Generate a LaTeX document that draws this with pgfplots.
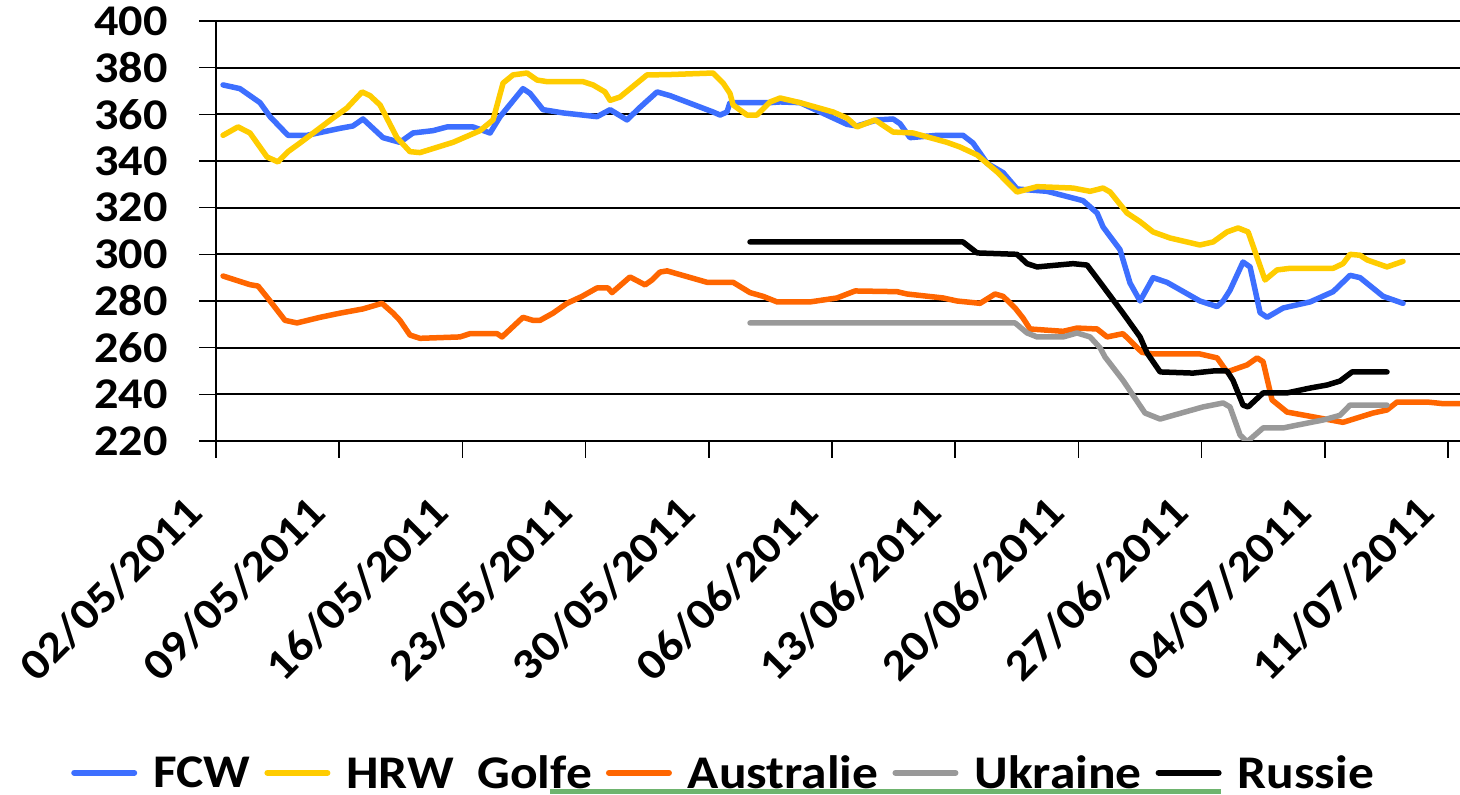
\documentclass[border=0pt]{standalone}
\usepackage{fontspec}
\setmainfont{Carlito}[FakeStretch=1.1]
\usepackage{pgfplots}
\pgfplotsset{compat=1.18}
\definecolor{cfcw}{RGB}{61,111,255}
\definecolor{chrw}{RGB}{255,204,0}
\definecolor{caus}{RGB}{255,102,0}
\definecolor{cukr}{RGB}{153,153,153}
\definecolor{cgreen}{RGB}{110,180,110}
\begin{document}
\begin{tikzpicture}[x=1bp,y=1bp]
\path[use as bounding box] (0,0) rectangle (1460,794);
\fill[cgreen] (550,0) rectangle (1221,5);
\begin{axis}[
  at={(216bp,353bp)}, anchor=south west,
  scale only axis, width=1244bp, height=420bp,
  xmin=0, xmax=70.68, ymin=220, ymax=400,
  axis x line*=bottom, axis y line*=left,
  axis line style={-, line width=2bp, black},
  tick align=outside,
  major tick length=17bp,
  tick style={line width=1.6bp, black},
  ytick={220,240,...,400},
  xtick={0,7,...,70},
  xticklabels={02/05/2011,09/05/2011,16/05/2011,23/05/2011,30/05/2011,06/06/2011,13/06/2011,20/06/2011,27/06/2011,04/07/2011,11/07/2011},
  ymajorgrids, grid style={black, line width=2bp},
  /pgf/number format/assume math mode=true,
  yticklabel style={font=\fontsize{44}{44}\selectfont\bfseries, anchor=east, xshift=-28bp},
  xticklabel style={font=\fontsize{44}{44}\selectfont\bfseries, xshift=-19bp, yshift=-45bp, rotate=45, anchor=east},
  legend columns=5,
  legend style={at={(0.408,-0.79)}, anchor=center, draw=none, fill=none,
    font=\fontsize{47}{47}\selectfont\bfseries,
    /tikz/every odd column/.append style={column sep=14bp},
    /tikz/every even column/.append style={column sep=12bp}},
  legend image code/.code={\draw[#1, line width=6bp] (0bp,0bp) -- (60bp,0bp);},
  every axis plot/.append style={line width=5.5bp, line join=round, line cap=round, mark=none},
  clip=true,
]
\addplot[cfcw] coordinates {(0.4,372.6)(1.36,371)(2.5,365)(3.07,359)(4.09,351)(5.17,351)(7.05,354)(7.78,355)(8.35,358)(9.49,350)(10.45,348)(11.19,352)(12.33,353)(13.13,354.6)(14.6,354.6)(15.57,352)(16.14,359)(17.44,371)(17.84,369)(18.58,362)(19.72,360.6)(21.65,359)(22.39,362)(23.35,357.6)(24.09,363)(25.06,369.6)(25.8,368)(28.24,361)(28.64,359.7)(29.03,361)(29.2,365)(31.48,365)(32.05,365.3)(33.18,365)(35.85,355.7)(36.42,355)(37.56,357.6)(38.47,358)(38.86,356)(39.43,350)(40.97,351)(42.44,351)(43.01,347.7)(43.81,339)(44.72,335)(45.51,328)(47.22,327)(49.26,323)(50.06,317.7)(50.4,311.7)(51.36,302)(51.93,287.7)(52.5,280)(53.24,290)(54.03,288)(55.9,280)(56.88,277.6)(57.22,280)(57.61,284.6)(58.35,296.7)(58.75,294.6)(59.32,275)(59.72,273)(60.63,277)(62.16,279.6)(63.47,284)(64.43,291)(65,290)(66.31,282)(67.44,279)};
\addlegendentry{FCW}
\addplot[chrw] coordinates {(0.4,351)(1.25,354.6)(1.93,352)(2.9,341.7)(3.52,339.6)(4.09,344)(4.77,347.7)(6.65,358.4)(7.44,362.7)(8.3,369.6)(8.75,368)(9.32,364)(10.28,350)(11.02,344)(11.59,343.6)(13.47,348)(15,353)(15.74,357.6)(16.31,373.4)(16.88,376.9)(17.67,377.7)(18.24,374.7)(18.81,374)(20.85,374)(21.42,372.6)(22.1,369.6)(22.39,366)(22.95,367.4)(24.49,376.9)(25.63,377)(28.24,377.7)(28.81,373.4)(29.2,369)(29.38,364)(30.17,359.7)(30.74,359.7)(31.48,365.3)(32.05,367)(33.18,365)(35.06,361)(35.85,358.4)(36.42,354.6)(37.44,357.6)(38.47,352.4)(39.6,352)(41.53,348)(42.27,346)(43.24,342.6)(44.38,335.3)(45.51,326.7)(46.65,329)(48.69,328.4)(49.66,327)(50.4,328.4)(50.8,326.7)(51.76,317.7)(52.5,314)(53.24,309.6)(54.2,307)(55.9,304)(56.65,305.3)(57.44,309.6)(58.07,311.3)(58.64,309.6)(59.6,289)(60.28,293.3)(61.02,294)(63.47,294)(64.03,296)(64.43,300)(65,299.6)(65.4,297.6)(66.53,294.6)(67.44,297)};
\addlegendentry{HRW~~Golfe}
\addplot[caus] coordinates {(0.4,290.7)(1.93,287)(2.39,286.4)(3.07,280)(3.92,271.7)(4.6,270.6)(5.91,273)(7.05,274.8)(8.35,276.6)(9.43,279)(10.06,274.8)(10.45,271.7)(11.02,265.4)(11.59,264)(13.86,264.6)(14.43,266)(15.97,266)(16.25,264.6)(17.44,273)(18.01,271.7)(18.41,271.7)(19.15,274.8)(19.94,279)(20.8,282)(21.65,285.6)(22.27,285.6)(22.5,283.6)(23.52,290.3)(24.38,286.9)(24.77,289)(25.23,292.4)(25.63,292.9)(27.9,288)(29.38,288)(30.34,283.6)(31.08,282)(31.88,279.6)(33.75,279.6)(35.28,281.3)(36.31,284.3)(38.69,284)(39.26,283)(41.31,281.3)(42.1,280)(43.41,279)(44.26,283)(44.72,282)(45.4,277)(45.85,272.7)(46.25,268)(48.13,267)(48.92,268.4)(50.06,268)(50.63,264.6)(51.53,266)(52.61,258)(53.24,257.3)(55.9,257.3)(56.88,255.6)(57.44,249.6)(58.58,252.6)(59.15,255.6)(59.49,254)(60,237.6)(60.85,232.4)(62.73,229.8)(64.03,228)(65.74,232)(66.53,233.3)(67.1,236.7)(68.81,236.7)(69.72,236)(70.68,236)};
\addlegendentry{Australie}
\addplot[cukr] coordinates {(30.34,270.6)(45.4,270.6)(46.08,266.3)(46.65,264.6)(48.13,264.6)(48.92,266.3)(49.66,264.6)(50.23,259.9)(50.51,256)(51.53,246)(52.78,232)(53.64,229.4)(54.38,231)(56.08,234.6)(57.22,236.3)(57.61,234.6)(58.18,222.6)(58.58,219.6)(59.49,225.6)(60.63,225.6)(61.42,226.8)(62.9,229)(63.86,231)(64.43,235.4)(66.53,235.4)};
\addlegendentry{Ukraine}
\addplot[black] coordinates {(30.34,305.3)(42.44,305.3)(43.24,300.6)(45.51,300)(46.08,296)(46.65,294.6)(48.69,296)(49.49,295.4)(50.23,288)(51.53,274.8)(52.5,264.6)(52.9,257.7)(53.64,249.6)(55.51,249.1)(56.65,250)(57.44,250)(57.78,246)(58.35,235.4)(58.64,234.6)(59.49,240.6)(60.85,240.6)(62.16,242.7)(63.13,244)(63.86,245.7)(64.55,249.6)(66.53,249.6)};
\addlegendentry{Russie}
\end{axis}
\end{tikzpicture}
\end{document}
